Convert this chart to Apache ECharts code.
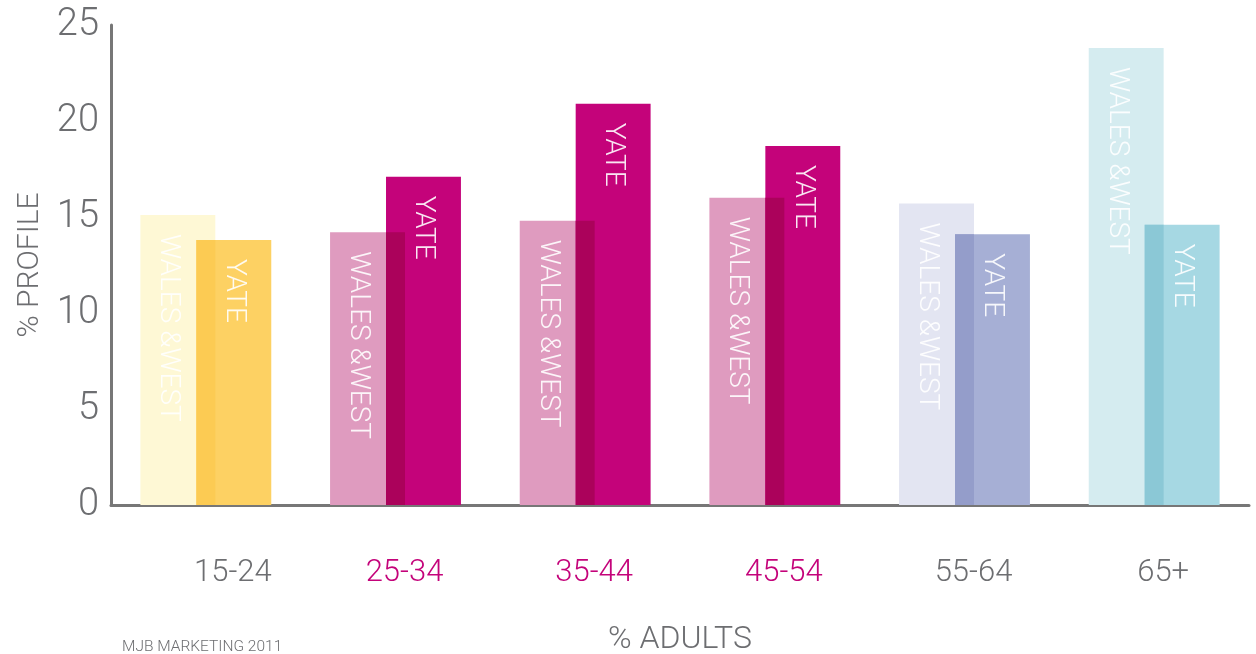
<!DOCTYPE html>
<html>
<head>
<meta charset="utf-8">
<script src="https://cdn.jsdelivr.net/npm/echarts@6/dist/echarts.min.js"></script>
<style>
  html, body { margin: 0; padding: 0; background: #fff; }
  #chart { width: 1256px; height: 654px; }
</style>
</head>
<body>
<div id="chart"></div>
<script>
// age bands and % profile values
const categories = ['15-24', '25-34', '35-44', '45-54', '55-64', '65+']
const walesWest = [15.1, 14.2, 14.8, 16.0, 15.7, 23.8]
const yate = [13.8, 17.1, 20.9, 18.7, 14.1, 14.6]

// colours per age band
const wwColors = ['#fef8d5', '#df9bbf', '#df9bbf', '#df9bbf', '#e3e5f2', '#d5ecf0']
const yateColors = ['#fdd163', '#c4037a', '#c4037a', '#c4037a', '#a6afd5', '#a6d8e3']
const labelKinds = ['f', 'm', 'm', 'm', 'g', 'g']

const gray = '#6d6e71'
const font = 'Roboto'

// the two bars look multiplied where they overlap
const multiply = (a, b) => {
  const pa = [1, 3, 5].map(k => parseInt(a.substr(k, 2), 16))
  const pb = [1, 3, 5].map(k => parseInt(b.substr(k, 2), 16))
  return 'rgb(' + pa.map((v, k) => Math.round(v * pb[k] / 255)).join(',') + ')'
}

const chart = echarts.init(document.getElementById('chart'), null, { renderer: 'canvas' })

// pair of overlapping bars: wales & west on the left, yate on the right
const makeRender = (side, colors, text) => (params, api) => {
  const i = api.value(0)
  const top = api.coord([i, api.value(1)])
  const base = api.coord([i, 0])
  const band = api.size([1, 0])[0]
  const w = band * 0.395
  const overlap = band * 0.1
  const x0 = side === 'left' ? top[0] - w + overlap / 2 : top[0] - overlap / 2
  const tx = side === 'left' ? x0 + (w - overlap) / 2 : x0 + w / 2
  const children = [
    {
      type: 'rect',
      shape: { x: x0, y: top[1], width: w, height: base[1] - top[1] },
      style: { fill: colors[i] }
    }
  ]
  if (side === 'right') {
    // strip shared with the wales & west bar
    const other = api.coord([i, api.value(2)])
    const oy = Math.max(top[1], other[1])
    children.push({
      type: 'rect',
      shape: { x: x0, y: oy, width: overlap, height: base[1] - oy },
      style: { fill: multiply(wwColors[i], yateColors[i]) }
    })
  }
  children.push({
    type: 'text',
    x: tx,
    y: top[1] + 19,
    rotation: -Math.PI / 2,
    style: {
      text: text,
      fill: 'rgba(255,255,255,0.9)',
      font: '300 28px ' + font,
      align: 'left',
      verticalAlign: 'middle'
    }
  })
  return { type: 'group', children: children }
}

const option = {
  backgroundColor: '#fff',
  animation: false,
  title: {
    text: 'MJB MARKETING 2011',
    left: 122,
    top: 639,
    padding: 0,
    textStyle: { fontFamily: font, fontWeight: 300, fontSize: 15.5, color: gray }
  },
  grid: { left: 111, right: 7, top: 25, bottom: 149, containLabel: false, outerBoundsMode: 'none' },
  xAxis: {
    type: 'category',
    data: categories,
    name: '% ADULTS',
    nameLocation: 'middle',
    nameGap: 119,
    nameTextStyle: { fontFamily: font, fontWeight: 300, fontSize: 32, color: gray },
    axisLine: { lineStyle: { color: '#777', width: 3 } },
    axisTick: { show: false },
    axisLabel: {
      margin: 53,
      formatter: (v, i) => '{' + labelKinds[i] + '|' + v + '}',
      rich: {
        g: { color: gray, fontFamily: font, fontWeight: 300, fontSize: 31, padding: [0, 0, 0, 18] },
        m: { color: '#c4037a', fontFamily: font, fontWeight: 300, fontSize: 31, padding: [0, 0, 0, 18] },
        f: { color: gray, fontFamily: font, fontWeight: 300, fontSize: 31, padding: [0, 0, 0, 54] }
      }
    }
  },
  yAxis: {
    type: 'value',
    min: 0,
    max: 25,
    interval: 5,
    name: '% PROFILE',
    nameLocation: 'middle',
    nameGap: 66,
    nameTextStyle: { fontFamily: font, fontWeight: 300, fontSize: 30, color: gray },
    axisLine: { show: true, lineStyle: { color: '#777', width: 3 } },
    axisTick: { show: false },
    splitLine: { show: false },
    axisLabel: { margin: 12, padding: [6, 0, 0, 0], fontFamily: font, fontWeight: 300, fontSize: 38, color: gray }
  },
  series: [
    {
      name: 'WALES & WEST',
      type: 'custom',
      renderItem: makeRender('left', wwColors, 'WALES &WEST'),
      encode: { x: 0, y: 1 },
      data: categories.map((c, i) => [i, walesWest[i]])
    },
    {
      name: 'YATE',
      type: 'custom',
      renderItem: makeRender('right', yateColors, 'YATE'),
      encode: { x: 0, y: 1 },
      data: categories.map((c, i) => [i, yate[i], walesWest[i]])
    }
  ]
}

chart.setOption(option)
window.addEventListener('resize', chart.resize)
</script>
</body>
</html>
